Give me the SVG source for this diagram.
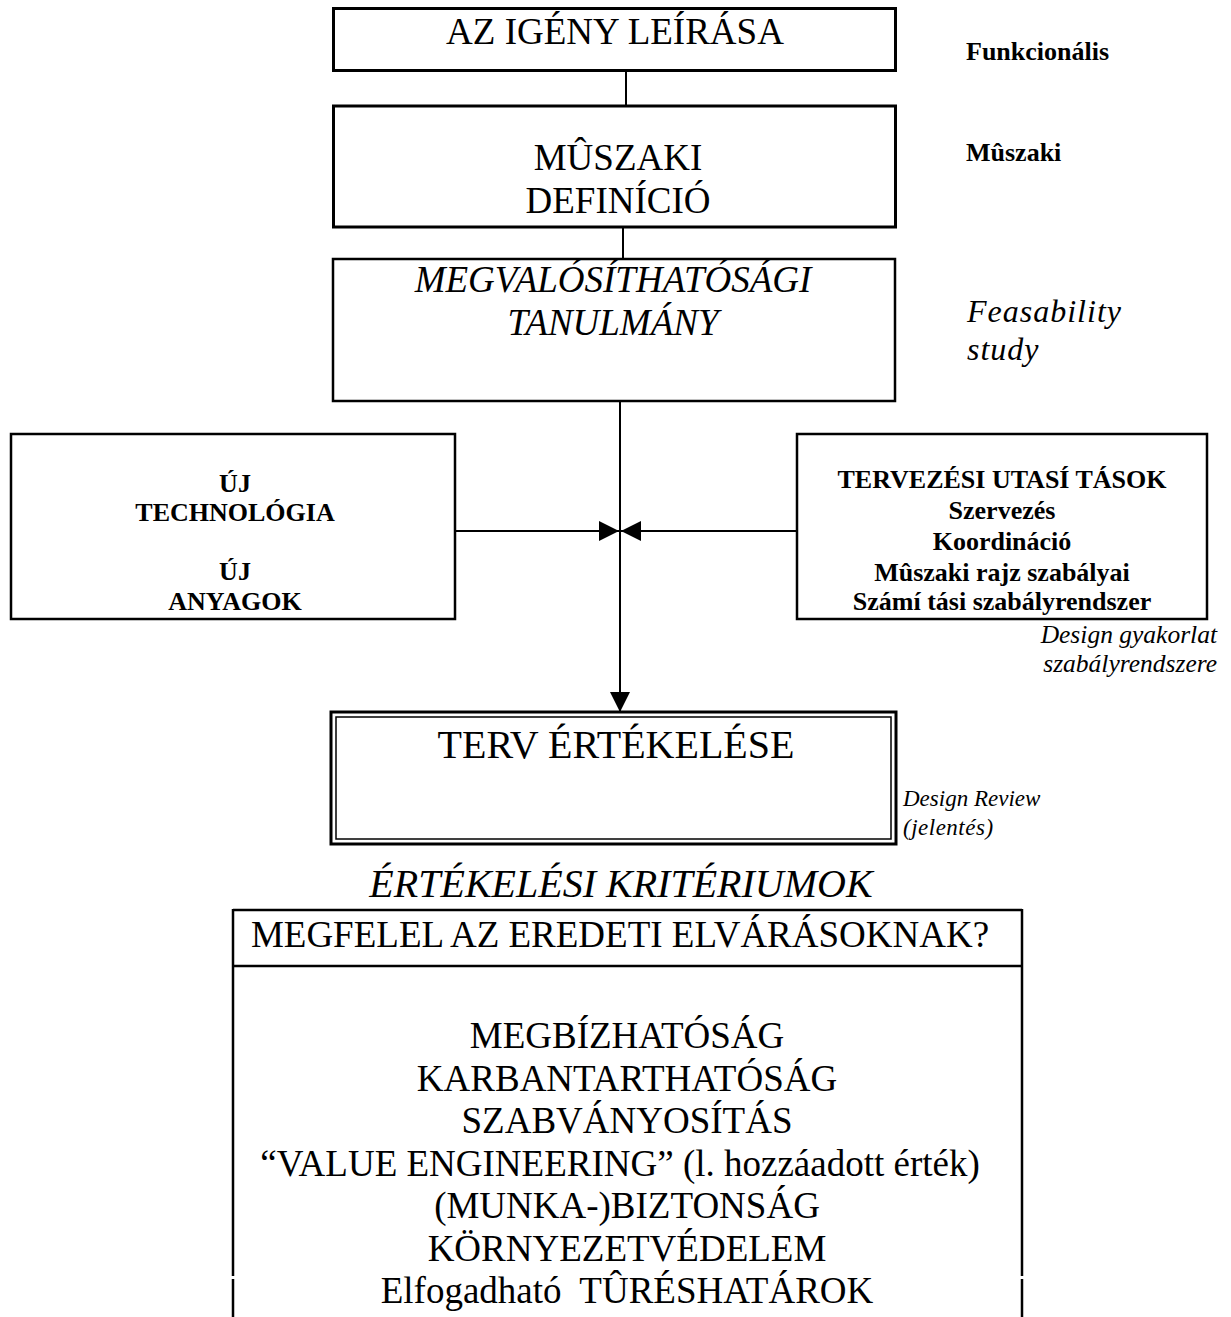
<svg xmlns="http://www.w3.org/2000/svg" width="1231" height="1317" viewBox="0 0 1231 1317">
  <style>
    .box { fill: #fff; stroke: #000; }
    .thick { stroke-width: 3; }
    .thin { stroke-width: 2.5; }
    .t { font-family: "Liberation Serif", "Times New Roman", serif; fill: #000; }
    .big { font-size: 37px; text-anchor: middle; }
    .it { font-style: italic; }
    .b26 { font-size: 26px; font-weight: bold; }
    .mid { text-anchor: middle; }
    .note { font-size: 23px; font-style: italic; }
    .conn { stroke: #000; stroke-width: 2; fill: none; }
  </style>
  <defs>
    <marker id="arrow" viewBox="0 0 20 20" refX="20" refY="10" markerWidth="20" markerHeight="20" markerUnits="userSpaceOnUse" orient="auto">
      <path d="M0,0 L20,10 L0,20 Z" fill="#000"/>
    </marker>
  </defs>

  <rect width="1231" height="1317" fill="#fff"/>

  <!-- connectors -->
  <g id="connectors">
    <line class="conn" x1="626" y1="70" x2="626" y2="106"/>
    <line class="conn" x1="623" y1="227" x2="623" y2="259"/>
    <line class="conn" x1="620" y1="401" x2="620" y2="712" marker-end="url(#arrow)"/>
    <line class="conn" x1="447" y1="531" x2="619" y2="531" marker-end="url(#arrow)"/>
    <line class="conn" x1="797" y1="531" x2="621" y2="531" marker-end="url(#arrow)"/>
  </g>

  <!-- requirement description -->
  <g id="igeny">
    <rect class="box thick" x="333.5" y="8.5" width="562" height="62"/>
    <text class="t big" x="615" y="44">AZ IGÉNY LEÍRÁSA</text>
  </g>
  <g id="label-funkcionalis">
    <text class="t b26" x="966" y="60">Funkcionális</text>
  </g>

  <!-- technical definition -->
  <g id="muszaki-definicio">
    <rect class="box thick" x="333.5" y="106" width="562" height="121"/>
    <text class="t big" x="618" y="170">MÛSZAKI</text>
    <text class="t big" x="618" y="213">DEFINÍCIÓ</text>
  </g>
  <g id="label-muszaki">
    <text class="t b26" x="966" y="161">Mûszaki</text>
  </g>

  <!-- feasibility study -->
  <g id="megvalosithatosag">
    <rect class="box thin" x="333" y="259" width="562" height="142"/>
    <text class="t big it" x="613" y="292">MEGVALÓSÍTHATÓSÁGI</text>
    <text class="t big it" x="613" y="335">TANULMÁNY</text>
  </g>
  <g id="label-feasability">
    <text class="t it" x="967" y="322" font-size="32" letter-spacing="1">Feasability</text>
    <text class="t it" x="967" y="360" font-size="32" letter-spacing="1">study</text>
  </g>

  <!-- new technology / materials -->
  <g id="uj-technologia">
    <rect class="box thin" x="11" y="434" width="444" height="185"/>
    <text class="t b26 mid" x="235" y="492">ÚJ</text>
    <text class="t b26 mid" x="235" y="521">TECHNOLÓGIA</text>
    <text class="t b26 mid" x="235" y="580">ÚJ</text>
    <text class="t b26 mid" x="235" y="610">ANYAGOK</text>
  </g>

  <!-- design instructions -->
  <g id="tervezesi-utasitasok">
    <rect class="box thin" x="797" y="434" width="410" height="185"/>
    <text class="t b26 mid" x="1002" y="488" xml:space="preserve">TERVEZÉSI UTASÍ TÁSOK</text>
    <text class="t b26 mid" x="1002" y="519">Szervezés</text>
    <text class="t b26 mid" x="1002" y="550">Koordináció</text>
    <text class="t b26 mid" x="1002" y="581">Mûszaki rajz szabályai</text>
    <text class="t b26 mid" x="1002" y="610" xml:space="preserve">Számí tási szabályrendszer</text>
  </g>
  <g id="label-design-gyakorlat">
    <text class="t it" x="1217" y="643" font-size="25.5" text-anchor="end">Design gyakorlat</text>
    <text class="t it" x="1217" y="672" font-size="25.5" text-anchor="end">szabályrendszere</text>
  </g>

  <!-- design review -->
  <g id="terv-ertekelese">
    <rect class="box" x="331" y="712" width="565" height="132" stroke-width="3"/>
    <rect class="box" x="336" y="717" width="555" height="122" stroke-width="1.5"/>
    <text class="t" x="616" y="758" font-size="40" text-anchor="middle">TERV ÉRTÉKELÉSE</text>
  </g>
  <g id="label-design-review">
    <text class="t note" x="903" y="806">Design Review</text>
    <text class="t note" x="903" y="835" letter-spacing="0.5">(jelentés)</text>
  </g>

  <!-- evaluation criteria -->
  <g id="ertekelesi-kriteriumok">
    <text class="t it" x="621" y="897" font-size="40" text-anchor="middle">ÉRTÉKELÉSI KRITÉRIUMOK</text>
    <path d="M233,910 H1022 M233,966 H1022 M233,909 V1276 M233,1279 V1317 M1022,909 V1276 M1022,1279 V1317" stroke="#000" stroke-width="2.5" fill="none"/>
    <text class="t big" x="620" y="947">MEGFELEL AZ EREDETI ELVÁRÁSOKNAK?</text>
    <text class="t big" x="627" y="1048">MEGBÍZHATÓSÁG</text>
    <text class="t big" x="627" y="1091">KARBANTARTHATÓSÁG</text>
    <text class="t big" x="627" y="1133">SZABVÁNYOSÍTÁS</text>
    <text class="t big" x="620" y="1176">“VALUE ENGINEERING” (l. hozzáadott érték)</text>
    <text class="t big" x="627" y="1218">(MUNKA-)BIZTONSÁG</text>
    <text class="t big" x="627" y="1261">KÖRNYEZETVÉDELEM</text>
    <text class="t big" x="627" y="1303" xml:space="preserve">Elfogadható  TÛRÉSHATÁROK</text>
  </g>
</svg>
